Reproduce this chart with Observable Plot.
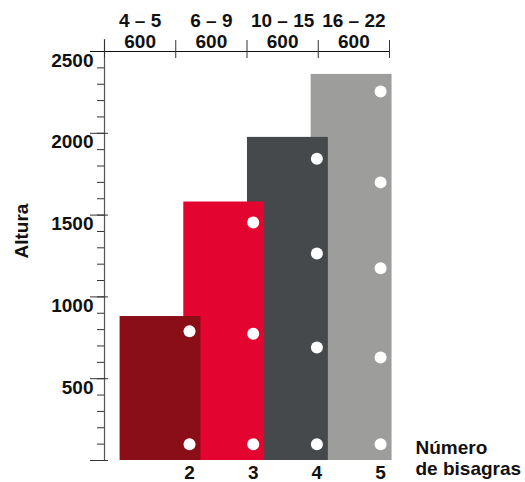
<!DOCTYPE html>
<html><head><meta charset="utf-8">
<script src="https://cdn.jsdelivr.net/npm/d3@7"></script>
<script src="https://cdn.jsdelivr.net/npm/@observablehq/plot@0.6"></script>
<style>body{margin:0;background:#fff}</style>
</head><body><div id="chart"></div>
<script>
// Data
const hinges = [2, 3, 4, 5];
const heights = [880, 1580, 1975, 2360];
const weightRanges = ["4 – 5", "6 – 9", "10 – 15", "16 – 22"];
const widths = ["600", "600", "600", "600"];
const colors = ["#8a0e17", "#e30530", "#45494c", "#9d9d9c"];
const hingeHeights = [[100, 790], [100, 775, 1455], [100, 690, 1265, 1845], [100, 630, 1175, 1700, 2255]];
const yMajor = [500, 1000, 1500, 2000, 2500];
const yMinor = d3.range(0, 2500, 100);
const yMajorTicks = [0, 500, 1000, 1500, 2000];

// Layout helpers (scale settings)
const xDomain = [0.665, 5.14];
const barLeft = -1.09, barRight = 0.18;
const bars = hinges.map((h, i) => ({h, height: heights[i], color: colors[i]})).reverse();
const dots = hingeHeights.flatMap((arr, i) => arr.map(v => ({h: hinges[i], v})));
const edges = d3.range(5).map(i => xDomain[0] + i * (xDomain[1] - xDomain[0]) / 4);
const centers = weightRanges.map((w, i) => ({x: (edges[i] + edges[i + 1]) / 2, label: w + "\n" + widths[i]}));

const chart = Plot.plot({
  width: 525,
  height: 482,
  marginLeft: 104,
  marginRight: 136,
  marginTop: 51,
  marginBottom: 22,
  style: {fontFamily: "'Liberation Sans', Arial, sans-serif", fontWeight: "bold", fontSize: "18px", color: "#111", background: "white", overflow: "visible"},
  x: {domain: xDomain, axis: null},
  y: {domain: [0, 2500], axis: null},
  color: {type: "identity"},
  marks: [
    Plot.rect(bars, {x1: d => d.h + barLeft, x2: d => d.h + barRight, y1: 0, y2: "height", fill: "color"}),
    Plot.dot(dots, {x: "h", y: "v", r: 6, fill: "white", stroke: null}),
    // y axis line
    Plot.ruleX([xDomain[0]], {insetTop: -12, stroke: "#555", strokeWidth: 1.2}),
    // top line
    Plot.ruleY([2500], {insetLeft: -14, stroke: "#111", strokeWidth: 1.2}),
    // minor ticks
    Plot.axisY({ticks: yMinor, tickSize: 7, tickFormat: () => "", label: null, stroke: "#333"}),
    // major ticks
    Plot.axisY({ticks: yMajorTicks, tickSize: 18, dx: 4, tickFormat: () => "", label: null, stroke: "#333"}),
    // y labels
    Plot.axisY({ticks: yMajor, tickSize: 0, tickPadding: 11, dy: 9, label: null, fontSize: 19, tickFormat: d => String(d)}),
    // top ticks
    Plot.axisX({anchor: "top", ticks: edges, tickSize: 18, dy: 6, tickFormat: () => "", label: null, stroke: "#333"}),
    Plot.text(centers, {x: "x", text: "label", frameAnchor: "top", lineAnchor: "middle", dy: -20.5, lineHeight: 1.1, fontSize: 19}),
    // bottom labels
    Plot.axisX({anchor: "bottom", ticks: hinges, tickSize: 0, tickPadding: 5, label: null, fontSize: 19, tickFormat: d => String(d)}),
    Plot.text(["Número\nde bisagras"], {frameAnchor: "bottom-right", textAnchor: "start", lineAnchor: "middle", dx: 26, dy: -2.5, lineHeight: 1.1, fontSize: 19}),
    Plot.text(["Altura"], {frameAnchor: "left", textAnchor: "middle", lineAnchor: "middle", rotate: -90, dx: -83, dy: -25, fontSize: 19})
  ]
});
document.getElementById("chart").appendChild(chart);
</script>
</body></html>
